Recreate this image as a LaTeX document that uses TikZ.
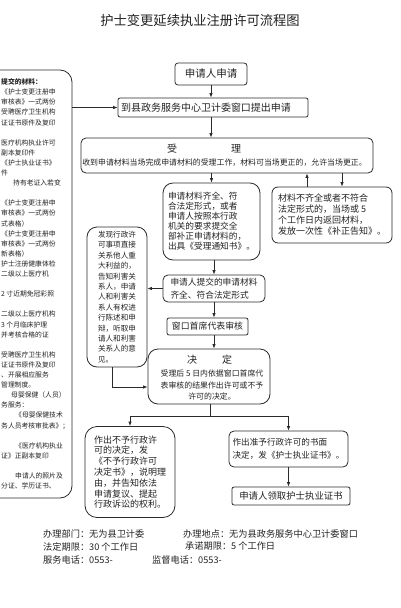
\documentclass[tikz,border=0pt]{standalone}
\usepackage{fontspec}
\setmainfont{Noto Sans CJK SC}
\usetikzlibrary{arrows.meta,calc}
\definecolor{linec}{HTML}{2A2A2A}
\definecolor{txtc}{HTML}{222222}
\newcommand{\fsz}[2]{\fontsize{#1}{#2}\selectfont}
\begin{document}
\begin{tikzpicture}[x=1pt,y=-1pt,
  bx/.style={draw=linec, line width=0.8pt, rounded corners=#1, inner sep=0pt, text=txtc, align=center},
  bx/.default=3pt,
  arr/.style={draw=linec, line width=0.8pt, -{Latex[length=4.5pt,width=3.5pt]}},
  ln/.style={draw=linec, line width=0.8pt},
  lbl/.style={text=txtc, inner sep=0pt}]
\useasboundingbox (0,0) rectangle (400,608);
\clip (0,0) rectangle (400,608);

% title
\node[lbl, font=\fsz{13.3}{15}] (title) at (200,20) {护士变更延续执业注册许可流程图};

% left panel (cut by the picture edge)
\node[bx=12pt, minimum width=92pt, minimum height=428pt] (lp) at (26,284) {};
\node[lbl, anchor=north west, font=\fsz{6.8}{10.1}, align=left] (lpt) at (1,78.5) {%
{\bfseries 提交的材料：}\\
《护士变更注册申\\
审核表》一式两份\\
受聘医疗卫生机构\\
证证书原件及复印\\
\mbox{}\\
医疗机构执业许可\\
副本复印件\\
《护士执业证书》\\
件\\
\hspace*{12pt}持有老证入若变\\
\mbox{}\\
《护士变更注册申\\
审核表》一式两份\\
式表格）\\
《护士变更注册申\\
审核表》一式两份\\
新表格）\\
护士注册健康体检\\
二级以上医疗机\\
\mbox{}\\
2 寸近期免冠彩照\\
\mbox{}\\
二级以上医疗机构\\
3 个月临床护理\\
并考核合格的证\\
\mbox{}\\
受聘医疗卫生机构\\
证证书原件及复印\\
、开展相应服务\\
管理制度。\\
\hspace*{10pt}母婴保健（人员）\\
务服务：\\
\hspace*{14pt}《母婴保健技术\\
务人员考核审批表》；\\
\mbox{}\\
\hspace*{14pt}《医疗机构执业\\
证》正副本复印\\
\mbox{}\\
\hspace*{14pt}申请人的照片及\\
分证、学历证书、};

% main flow
\node[bx=3pt, minimum width=72pt, minimum height=22pt, font=\fsz{10.5}{12}] (n1) at (211,74) {申请人申请};
\node[bx=2pt, minimum width=190pt, minimum height=19pt, font=\fsz{10}{12}, text width=184pt, align=left] (n2) at (213,107.5) {到县政务服务中心卫计委窗口提出申请};

\node[bx=5pt, minimum width=292pt, minimum height=35pt] (n3) at (227,155.5) {};
\node[lbl, font=\fsz{10}{12}] (n3t) at (204,149) {受\hspace{54pt}理};
\node[lbl, font=\fsz{7.9}{9}] (n3d) at (224.5,163) {收到申请材料当场完成申请材料的受理工作，材料可当场更正的，允许当场更正。};

\node[bx=10pt, minimum width=97pt, minimum height=77pt, font=\fsz{8.7}{10}, align=left] (n4) at (211.5,221.5) {申请材料齐全、符\\合法定形式，或者\\申请人按照本行政\\机关的要求提交全\\部补正申请材料的，\\出具《受理通知书》。};

\node[bx=6pt, minimum width=120pt, minimum height=56pt, font=\fsz{9}{11}, align=left] (n5) at (332,215) {材料不齐全或者不符合\\法定形式的，当场或 5\\个工作日内返回材料，\\发放一次性《补正告知》。};

\node[bx=5pt, minimum width=102pt, minimum height=27pt, font=\fsz{8.7}{12.5}, align=left] (n6) at (214,288.5) {申请人提交的申请材料\\齐全、符合法定形式};

\node[bx=10pt, minimum width=60pt, minimum height=140pt, font=\fsz{7.6}{10.4}, align=left] (n7) at (117,297) {发现行政许\\可事项直接\\关系他人重\\大利益的，\\告知利害关\\系人，申请\\人和利害关\\系人有权进\\行陈述和申\\辩，听取申\\请人和利害\\关系人的意\\见。};

\node[bx=2pt, minimum width=81pt, minimum height=17pt, font=\fsz{8.9}{10}] (n8) at (207.5,326.5) {窗口首席代表审核};

\node[bx=10pt, minimum width=122pt, minimum height=55pt] (n9) at (209,376.5) {};
\node[lbl, font=\fsz{10}{12}] (n9t) at (209.5,360) {决\hspace{25pt}定};
\node[lbl, font=\fsz{7.9}{11.5}, align=center] (n9d) at (212,385) {受理后 5 日内依据窗口首席代\\表审核的结果作出许可或不予\\许可的决定。};

\node[bx=12pt, minimum width=90pt, minimum height=91pt, font=\fsz{9}{10.8}, align=left] (n10) at (130,472) {作出不予行政许\\可的决定，发\\《不予行政许可\\决定书》，说明理\\由，并告知依法\\申请复议、提起\\行政诉讼的权利。};

\node[bx=5pt, minimum width=119pt, minimum height=36pt, font=\fsz{8.6}{13}, align=left] (n11) at (288.5,449) {作出准予行政许可的书面\\决定，发《护士执业证书》。};

\node[bx=2pt, minimum width=118pt, minimum height=18pt, font=\fsz{9.4}{11}] (n12) at (291,496) {申请人领取护士执业证书};

% connectors
\draw[arr] (n1.south) -- (n1.south |- n2.north);
\draw[arr] (n1.south |- n2.south) -- (n1.south |- n3.north);
\draw[arr] (n4.north |- n3.south) -- (n4.north);
\draw[arr] ([xshift=-25pt]n5.north) -- ([xshift=-25pt]n5.north |- n3.south);
\draw[arr] ([xshift=10pt]n5.north |- n3.south) -- ([xshift=10pt]n5.north);
\draw[arr] (n6.north |- n4.south) -- (n6.north);
\draw[arr] (n6.west) -- (n6.west -| n7.east);
\draw[arr] (n6.south) -- (n6.south |- n8.north);
\draw[arr] (n6.south |- n8.south) -- (n6.south |- n9.north);
\coordinate (j1) at (112,387);
\draw[arr] (n7.south -| j1) -- (j1) -- (j1 -| n9.west);
\coordinate (j2) at (210,416);
\draw[ln] (n9.south -| j2) -- (j2);
\draw[ln] (n10.north |- j2) -- (n11.north |- j2);
\draw[arr] (n10.north |- j2) -- (n10.north);
\draw[arr] (n11.north |- j2) -- (n11.north);
\draw[arr] (n11.south) -- (n11.south |- n12.north);
\draw[arr] (lp.east |- n2.west) -- (n2.west);

% footer
\node[lbl, anchor=west, font=\fsz{9.2}{11}] (f1) at (43,534) {办理部门：无为县卫计委};
\node[lbl, anchor=west, font=\fsz{9.2}{11}] (f2) at (183,534) {办理地点：无为县政务服务中心卫计委窗口};
\node[lbl, anchor=west, font=\fsz{9.2}{11}] (f3) at (43,546.5) {法定期限：30 个工作日};
\node[lbl, anchor=west, font=\fsz{9.2}{11}] (f4) at (185,546.5) {承诺期限：5 个工作日};
\node[lbl, anchor=west, font=\fsz{9.2}{11}] (f5) at (43,560) {服务电话：0553-};
\node[lbl, anchor=west, font=\fsz{9.2}{11}] (f6) at (152,560) {监督电话：0553-};
\end{tikzpicture}
\end{document}
